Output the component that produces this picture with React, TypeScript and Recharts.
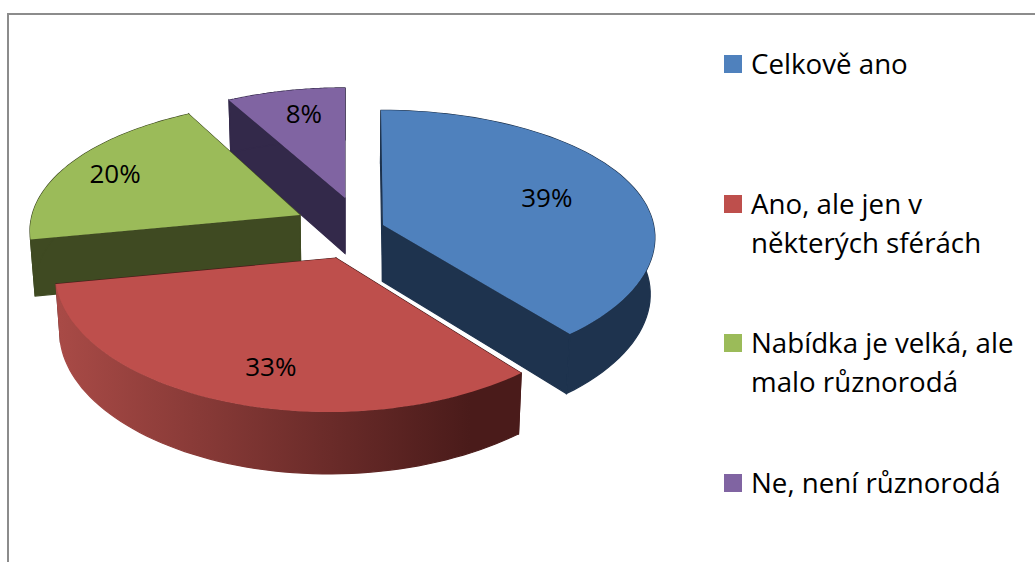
import { PieChart, Pie, Legend } from 'recharts';

const CATEGORIES = ['Celkově ano', 'Ano, ale jen v některých sférách', 'Nabídka je velká, ale malo různorodá', 'Ne, není různorodá'];
const VALUES = [39, 33, 20, 8];
const COLORS = ['#4F81BD', '#BE4F4C', '#9BBB59', '#8064A2'];
const WALLS = ['#1E334E', 'url(#redWall)', '#3F4A22', '#33294A'];

// exploded offset and small per-slice corrections of the perspective disc
const SLICE_GEOMETRY = [
  { dx: 38, dy: -15, sx: 0.995, sy: 1, skew: 2, labelRho: 0.65, labelDx: 2 },
  { dx: -9, dy: 18, sx: 1.025, sy: 1.055, skew: -7.5, labelRho: 0.77, labelDx: 18 },
  { dx: -45, dy: -25, sx: 0.985, sy: 0.99, skew: -9.5, labelRho: 0.8, labelDx: 0 },
  { dx: 0, dy: -42, sx: 0.955, sy: 0.96, skew: 0, labelRho: 0.78, labelDx: 6 },
];

const FONT = '"Open Sans", sans-serif';
const CX = 345;
const CY = 240;
const RADIUS = 272;
const TILT = 0.4724;
const PERSPECTIVE_X = 0.09;
const PERSPECTIVE_Y = 0.12;

// painted back to front, so the pie runs counter-clockwise over the reversed list
const paintOrder = CATEGORIES.map((name, i) => ({
  name, value: VALUES[i], fill: COLORS[i], wall: WALLS[i], geo: SLICE_GEOMETRY[i],
})).reverse();

type Geo = (typeof SLICE_GEOMETRY)[number];
type Pt = [number, number];

function project(geo: Geo, cx: number, cy: number, r: number, mathAngle: number, rho: number): Pt {
  const rad = ((90 - mathAngle) * Math.PI) / 180;
  const u = Math.sin(rad) * rho;
  const v = -Math.cos(rad) * rho;
  return [
    cx + geo.dx + (r * geo.sx * u) / (1 - PERSPECTIVE_X * v) + geo.skew * v,
    cy + geo.dy + (r * TILT * geo.sy * v) / (1 - PERSPECTIVE_Y * v),
  ];
}

// the underside sits lower and shrinks slightly towards the middle
function drop(p: Pt, cx: number): Pt {
  return [p[0] + (cx - p[0]) * 0.015, p[1] + 57 + (p[1] - 250) * 0.03];
}

const toPath = (pts: Pt[]) => 'M' + pts.map(p => `${p[0].toFixed(1)},${p[1].toFixed(1)}`).join('L') + 'Z';

function Slice3D(props: any) {
  const { cx, cy, outerRadius, startAngle, endAngle, fill, wall, geo } = props;
  const arc: Pt[] = [];
  const steps = 64;
  for (let i = 0; i <= steps; i++) {
    const a = startAngle + ((endAngle - startAngle) * i) / steps;
    arc.push(project(geo, cx, cy, outerRadius, a, 1));
  }
  const apex = project(geo, cx, cy, outerRadius, 0, 0);
  const apexLow = drop(apex, cx);
  const first = arc[0];
  const last = arc[arc.length - 1];
  const cutFill = wall === 'url(#redWall)' ? '#4A1B1A' : wall;
  return (
    <g>
      <path d={toPath([apex, first, drop(first, cx), apexLow])} fill={cutFill} stroke={cutFill} strokeWidth={1.2} />
      <path d={toPath([apex, last, drop(last, cx), apexLow])} fill={cutFill} stroke={cutFill} strokeWidth={1.2} />
      <path d={toPath([...arc, ...arc.map(p => drop(p, cx)).reverse()])} fill={wall} stroke={wall} strokeWidth={1.2} />
      <path d={toPath([apex, ...arc])} fill={fill} />
    </g>
  );
}

function renderPercent(props: any) {
  const { cx, cy, outerRadius, midAngle, value, payload } = props;
  const geo: Geo = payload?.geo ?? props.geo;
  const [x, y] = project(geo, cx, cy, outerRadius, midAngle, geo.labelRho);
  return (
    <text x={x + geo.labelDx} y={y} textAnchor="middle" dominantBaseline="central"
      fontFamily={FONT} fontSize={26} fill="#000">
      {`${value}%`}
    </text>
  );
}

function LegendRows() {
  return (
    <div style={{ fontFamily: FONT, fontSize: 27.7, lineHeight: '39px', color: '#000' }}>
      {CATEGORIES.map((name, i) => (
        <div key={name} style={{ position: 'absolute', left: 724, top: 44 + i * 139.6, width: 300 }}>
          <span style={{ position: 'absolute', left: 0, top: 11, width: 18, height: 18, background: COLORS[i] }} />
          <div style={{ marginLeft: 27 }}>{name}</div>
        </div>
      ))}
    </div>
  );
}

export default function App() {
  return (
    <div style={{ position: 'fixed', left: 0, top: 0, width: 1035, height: 562, overflow: 'hidden', background: '#fff' }}>
      <div style={{ position: 'absolute', left: 7, top: 13, right: 0, bottom: 0, borderLeft: '2px solid #8C8C8C', borderTop: '2px solid #8C8C8C' }} />
      <div style={{ position: 'absolute', left: 0, top: 0 }}>
        <PieChart width={1035} height={562} margin={{ top: 0, right: 0, bottom: 0, left: 0 }}>
          <defs>
            <linearGradient id="redWall" gradientUnits="userSpaceOnUse" x1={60} y1={0} x2={470} y2={0}>
              <stop offset="0%" stopColor="#A84A46" />
              <stop offset="100%" stopColor="#4A1B1A" />
            </linearGradient>
          </defs>
          <Pie
            data={paintOrder}
            dataKey="value"
            nameKey="name"
            cx={CX}
            cy={CY}
            innerRadius={0}
            outerRadius={RADIUS}
            startAngle={90}
            endAngle={450}
            stroke="none"
            shape={Slice3D}
            label={renderPercent}
            labelLine={false}
            isAnimationActive={false}
          />
          <Legend content={<LegendRows />} wrapperStyle={{ left: 0, top: 0, width: 1035, height: 0 }} />
        </PieChart>
      </div>
    </div>
  );
}
